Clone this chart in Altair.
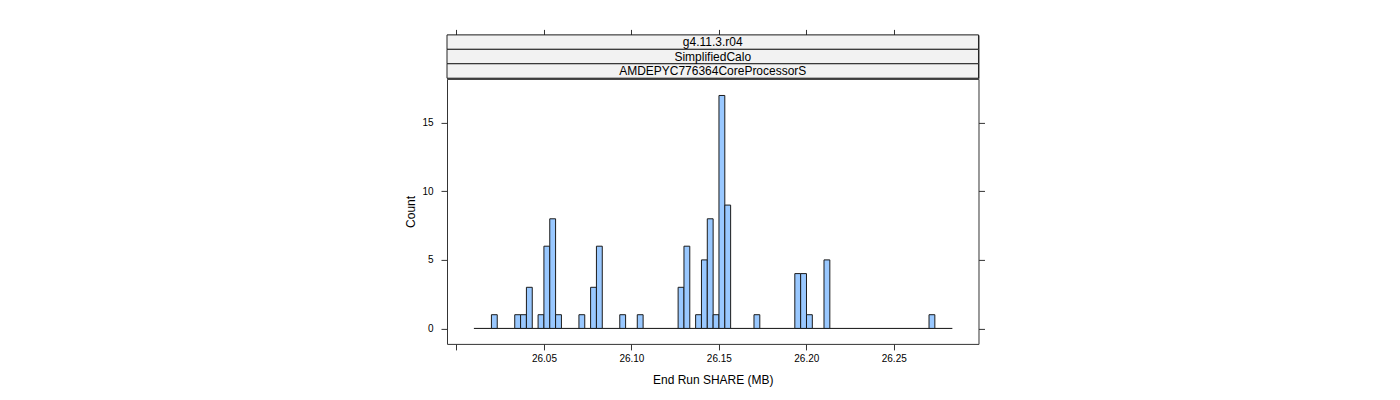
import altair as alt
import pandas as pd

# histogram of End Run SHARE (MB): equal-width bins, counts
bin_start = 26.00995
bin_width = 0.003336
counts = [0, 0, 0, 1, 0, 0, 0, 1, 1, 3,
          0, 1, 6, 8, 1, 0, 0, 0, 1, 0,
          3, 6, 0, 0, 0, 1, 0, 0, 1, 0,
          0, 0, 0, 0, 0, 3, 6, 0, 1, 5,
          8, 1, 17, 9, 0, 0, 0, 0, 1, 0,
          0, 0, 0, 0, 0, 4, 4, 1, 0, 0,
          5, 0, 0, 0, 0, 0, 0, 0, 0, 0,
          0, 0, 0, 0, 0, 0, 0, 0, 1, 0,
          0, 0]

x_ticks = [26.00, 26.05, 26.10, 26.15, 26.20, 26.25]
y_ticks = [0, 5, 10, 15]
strips = ["g4.11.3.r04", "SimplifiedCalo", "AMDEPYC776364CoreProcessorS"]

FONT = "Liberation Sans"
LINE = "#333333"

bins = pd.DataFrame({
    "lo": [bin_start + i * bin_width for i in range(len(counts))],
    "hi": [bin_start + (i + 1) * bin_width for i in range(len(counts))],
    "count": counts,
})
filled = bins[bins["count"] > 0]
base = pd.DataFrame({"lo": [bins["lo"].min()], "hi": [bins["hi"].max()]})

xs = alt.Scale(domain=[25.99457, 26.29844], nice=False, zero=False)
ys = alt.Scale(domain=[-1.13, 18.21], nice=False, zero=False)

x_axis = alt.Axis(
    orient="bottom", values=x_ticks, title="End Run SHARE (MB)",
    labelExpr="datum.value < 26.01 ? '' : format(datum.value, '.2f')",
    domain=False, grid=False, tickSize=6, tickColor=LINE,
    labelFont=FONT, labelFontSize=10, labelColor="black",
    labelBaseline="alphabetic", labelPadding=11.7,
    titleFont=FONT, titleFontSize=12, titleFontWeight="normal", titleColor="black",
    titleBaseline="alphabetic", titleY=40,
)
y_axis = alt.Axis(
    orient="left", values=y_ticks, title="Count",
    domain=False, grid=False, tickSize=6, tickColor=LINE,
    labelFont=FONT, labelFontSize=10, labelColor="black", labelPadding=8,
    titleFont=FONT, titleFontSize=12, titleFontWeight="normal", titleColor="black",
    titleAngle=270, titleBaseline="alphabetic", titleX=-32.7, titleY=132.5,
    titleAlign="center",
)
y_right = alt.Axis(orient="right", values=y_ticks, title=None, labels=False,
                   domain=False, grid=False, tickSize=6, tickColor=LINE)
x_top = alt.Axis(orient="top", values=x_ticks, title=None, labels=False,
                 domain=False, grid=False, tickSize=5.5, tickColor=LINE)

# zero line along all bins
baseline = alt.Chart(base).mark_rule(color="#111111", strokeWidth=1).encode(
    x=alt.X("lo:Q", scale=xs, axis=x_axis),
    x2="hi:Q",
    y=alt.YDatum(0, axis=None, scale=ys),
)

bars = alt.Chart(filled).mark_rect(fill="#99c8ff", stroke="#1a1a1a", strokeWidth=1).encode(
    x=alt.X("lo:Q", scale=xs, axis=x_axis),
    x2="hi:Q",
    y=alt.Y("count:Q", scale=ys, axis=y_axis),
    y2=alt.datum(0),
)

right_ticks = alt.Chart(filled).mark_point(opacity=0).encode(
    y=alt.Y("count:Q", scale=ys, axis=y_right)
)

main = alt.layer(baseline, bars, right_ticks).resolve_axis(y="independent").properties(
    width=531.5, height=265
)

# strip labels on top of the panel
strip_df = pd.DataFrame({"label": strips})
strip_y = alt.Y("label:N", sort=strips, axis=None,
                scale=alt.Scale(paddingInner=0, paddingOuter=0))

strip_rect = alt.Chart(strip_df).mark_rect(fill="#f2f2f2", stroke="#222222", strokeWidth=1).encode(
    y=strip_y
)
strip_text = alt.Chart(strip_df).mark_text(font=FONT, fontSize=12, color="black").encode(
    y=strip_y, text="label:N"
)
top_ticks = alt.Chart(pd.DataFrame({"v": x_ticks})).mark_point(opacity=0).encode(
    x=alt.X("v:Q", scale=xs, axis=x_top)
)

strip = alt.layer(strip_rect, strip_text, top_ticks).properties(width=531.5, height=43.3)

chart = alt.vconcat(strip, main, spacing=0, bounds="flush").properties(
    padding={"left": 395, "top": 19.9, "right": 5, "bottom": 5}
).configure_view(stroke=LINE, strokeWidth=1)

chart.save("out.html", embed_options={"renderer": "svg", "actions": False})
